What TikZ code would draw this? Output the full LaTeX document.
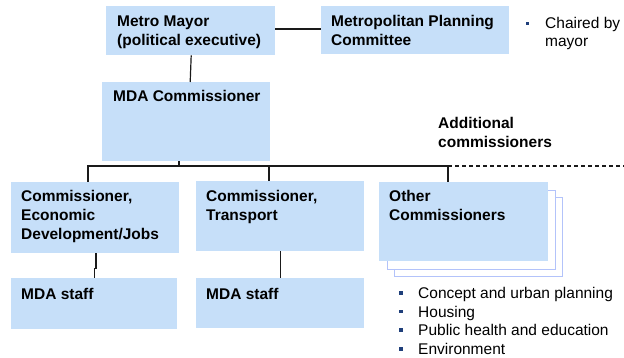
\documentclass[tikz,border=0pt]{standalone}
\usepackage{fontspec}
\setmainfont{Liberation Sans}
\usetikzlibrary{calc}
\definecolor{boxblue}{HTML}{C6DFF9}
\definecolor{shadowline}{HTML}{B3C3FA}
\definecolor{bulletblue}{HTML}{1F3F7A}
\definecolor{linegray}{HTML}{1A1A1A}
\tikzset{
  box/.style={rectangle, fill=boxblue, draw=none, inner sep=0pt, anchor=north west},
  backbox/.style={rectangle, fill=white, draw=shadowline, line width=0.9pt, inner sep=0pt, anchor=north west},
  boxtext/.style={inner sep=0pt, anchor=base west, align=left, font=\fontsize{15.5}{18.7}\selectfont\bfseries},
  plaintext/.style={inner sep=0pt, anchor=base west, align=left, font=\fontsize{15.5}{18.7}\selectfont},
  bulletsq/.style={rectangle, fill=bulletblue, inner sep=0pt, minimum size=3.6pt},
  conn/.style={draw=linegray, line width=1.2pt},
}
\begin{document}
\begin{tikzpicture}[x=1pt,y=-1pt]
\useasboundingbox (0,0) rectangle (624,358);
% top row (base anchor = baseline of the last line)
\node[box, minimum width=169pt, minimum height=49pt] (mayor) at (106,6) {};
\node[boxtext] (mayorT) at (117,45.2) {Metro Mayor\\(political executive)};
\node[box, minimum width=188pt, minimum height=48pt] (mpc) at (321,6) {};
\node[boxtext] (mpcT) at (331,45.2) {Metropolitan Planning\\Committee};
\node[bulletsq] (b0) at (527.5,23.5) {};
\node[plaintext] (chair) at (545,47) {Chaired by\\mayor};
% MDA commissioner
\node[box, minimum width=168pt, minimum height=79pt] (mda) at (102,82) {};
\node[boxtext] (mdaT) at (113,101.7) {MDA Commissioner};
\node[boxtext] (addl) at (438,147.4) {Additional\\commissioners};
% second row
\node[box, minimum width=168pt, minimum height=71pt] (econ) at (11,182) {};
\node[boxtext] (econT) at (21,239.2) {Commissioner,\\Economic\\Development/Jobs};
\node[box, minimum width=168pt, minimum height=70pt] (trans) at (196,181) {};
\node[boxtext] (transT) at (206,220.4) {Commissioner,\\Transport};
\node[backbox, minimum width=168pt, minimum height=79pt] (other3) at (394,197) {};
\node[backbox, minimum width=168pt, minimum height=79pt] (other2) at (387,190) {};
\node[box, minimum width=169pt, minimum height=79pt] (other) at (379,182) {};
\node[boxtext] (otherT) at (389,220.4) {Other\\Commissioners};
% staff row
\node[box, minimum width=166pt, minimum height=51pt] (staffL) at (11,278) {};
\node[boxtext] (staffLT) at (21,299) {MDA staff};
\node[box, minimum width=168pt, minimum height=50pt] (staffR) at (196,278) {};
\node[boxtext] (staffRT) at (206,299) {MDA staff};
% bullet list
\node[bulletsq] (b1) at (400.7,292.7) {};
\node[bulletsq] (b2) at (400.7,311.4) {};
\node[bulletsq] (b3) at (400.7,330.2) {};
\node[bulletsq] (b4) at (400.7,349.2) {};
\node[plaintext] (l1) at (418,298.3) {Concept and urban planning};
\node[plaintext] (l2) at (418,317) {Housing};
\node[plaintext] (l3) at (418,335.8) {Public health and education};
\node[plaintext] (l4) at (418,354.8) {Environment};
% connectors
\draw[conn] (mayor.east |- 0,29) -- (mpc.west |- 0,29);
\draw[conn] ($(mayor.south)+(0.5,0)$) -- ($(mda.north)+(4,0)$);
\coordinate (busM) at (179,166);
\coordinate (busL) at (88,166);
\coordinate (busC) at (269,166);
\coordinate (busR) at (448,166);
\coordinate (busEnd) at (624,166);
\draw[conn] (mda.south -| busM) -- (busM);
\draw[conn] (econ.north -| busL) -- (busL) -- (busR) -- (other.north -| busR);
\draw[conn] (busC) -- (trans.north -| busC);
\draw[conn, dash pattern=on 4pt off 3pt] (busR) -- (busEnd);
\draw[conn] ($(econ.south)+(0.7,0)$) -- ++(0,15) -| (staffL.north);
\draw[conn] (trans.south) -- (staffR.north);
\end{tikzpicture}
\end{document}
